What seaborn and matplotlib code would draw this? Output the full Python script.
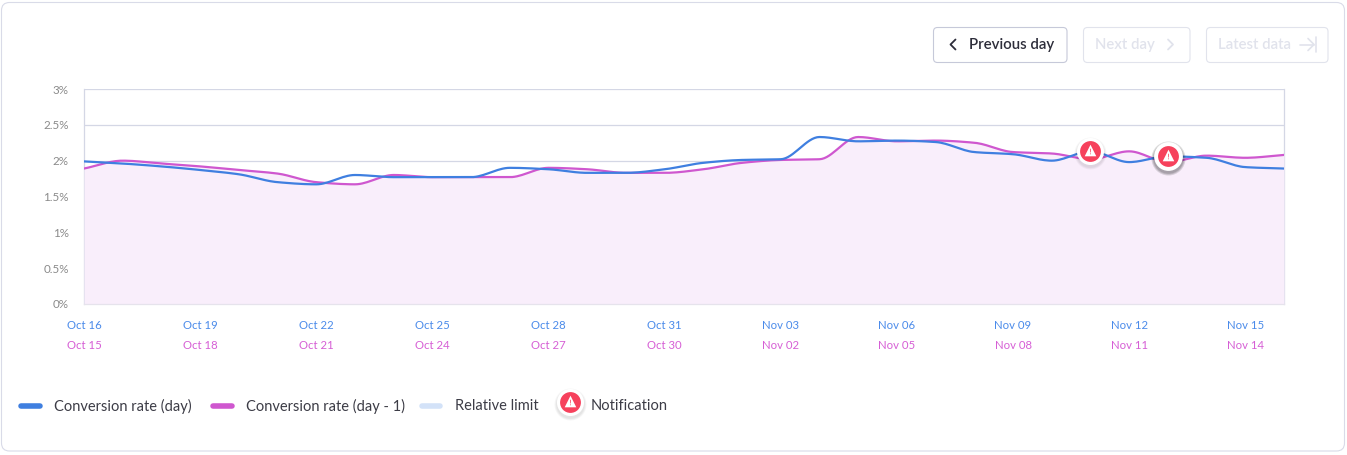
import numpy as np
import pandas as pd
import matplotlib
matplotlib.use("Agg")
import matplotlib.pyplot as plt
from matplotlib.patches import FancyBboxPatch
from matplotlib.transforms import ScaledTranslation
import seaborn as sns

W, H = 1347, 455

# Daily conversion rates, in percent
day_rate = [1.99, 1.96, 1.92, 1.87, 1.81, 1.70, 1.67, 1.80, 1.77, 1.77, 1.77,
            1.90, 1.88, 1.83, 1.83, 1.88, 1.97, 2.01, 2.02, 2.33, 2.27, 2.28,
            2.26, 2.12, 2.09, 2.00, 2.13, 1.98, 2.06, 2.04, 1.91, 1.89]
prev_rate = [1.89, 2.00, 1.96, 1.92, 1.87, 1.82, 1.70, 1.67, 1.80, 1.77, 1.77,
             1.77, 1.90, 1.88, 1.83, 1.83, 1.88, 1.97, 2.01, 2.02, 2.33, 2.27,
             2.28, 2.25, 2.12, 2.10, 2.02, 2.13, 1.98, 2.07, 2.04, 2.08]
notification_days = [26, 28]

day_labels = ["Oct 16", "Oct 19", "Oct 22", "Oct 25", "Oct 28", "Oct 31",
              "Nov 03", "Nov 06", "Nov 09", "Nov 12", "Nov 15"]
prev_labels = ["Oct 15", "Oct 18", "Oct 21", "Oct 24", "Oct 27", "Oct 30",
               "Nov 02", "Nov 05", "Nov 08", "Nov 11", "Nov 14"]
y_ticks = [0, 0.5, 1, 1.5, 2, 2.5, 3]
y_labels = ["0%", "0.5%", "1%", "1.5%", "2%", "2.5%", "3%"]

BLUE = "#3f7fe0"
MAGENTA = "#cf57cf"
FILL = "#f9eefb"
GRID = "#d4d7e5"
BORDER = "#d9dbe8"
RED = "#f6415c"
TEXT = "#3c3c46"
FAINT = "#e1e3ec"


def smooth(values, per_segment=16):
    """Shape-preserving cubic curve through the daily values, for a spline look."""
    y = np.asarray(values, float)
    x = np.arange(len(y), dtype=float)
    d = np.diff(y)
    m = np.zeros_like(y)
    for i in range(1, len(y) - 1):
        if d[i - 1] * d[i] > 0:
            m[i] = 2 * d[i - 1] * d[i] / (d[i - 1] + d[i])
    m[0], m[-1] = d[0], d[-1]
    xs = np.linspace(0, len(y) - 1, (len(y) - 1) * per_segment + 1)
    idx = np.minimum(xs.astype(int), len(y) - 2)
    t = xs - x[idx]
    ys = ((2 * t**3 - 3 * t**2 + 1) * y[idx] + (t**3 - 2 * t**2 + t) * m[idx]
          + (-2 * t**3 + 3 * t**2) * y[idx + 1] + (t**3 - t**2) * m[idx + 1])
    return xs, ys


sns.set_theme(style="white")
plt.rcParams["font.family"] = ["Lato", "DejaVu Sans"]

fig = plt.figure(figsize=(W / 100, H / 100), dpi=100, facecolor="white")

# Page furniture is laid out on a pixel-based overlay
ui = fig.add_axes([0, 0, 1, 1], zorder=0)
ui.set_xlim(0, W)
ui.set_ylim(H, 0)
ui.axis("off")


def box(x0, y0, x1, y1, edge, radius=4):
    ui.add_patch(FancyBboxPatch((x0, y0), x1 - x0, y1 - y0,
                                boxstyle=f"round,pad=0,rounding_size={radius}",
                                fc="white", ec=edge, lw=0.8))


box(1.5, 2.5, 1344.5, 451, BORDER, 8)

# Navigation buttons
box(933.5, 27.5, 1067, 62.5, "#c6c9d9")
box(1083.5, 27.5, 1190, 62.5, FAINT)
box(1206.5, 27.5, 1328, 62.5, FAINT)
ui.text(969, 45, "Previous day", fontsize=10.8, color="#2d2d3a",
        fontweight="semibold", va="center", ha="left")
ui.text(1095, 45, "Next day", fontsize=10.8, color=FAINT,
        fontweight="semibold", va="center", ha="left")
ui.text(1218, 45, "Latest data", fontsize=10.8, color=FAINT,
        fontweight="semibold", va="center", ha="left")
ui.plot([955.5, 950.5, 955.5], [39.5, 44.5, 49.5], color="#2d2d3a", lw=1.3)
ui.plot([1168, 1173, 1168], [39.5, 44.5, 49.5], color=FAINT, lw=1.3)
ui.plot([1300, 1314], [44.5, 44.5], color=FAINT, lw=1.2)
ui.plot([1308, 1314, 1308], [38.5, 44.5, 50.5], color=FAINT, lw=1.2)
ui.plot([1315.5, 1315.5], [37, 52], color=FAINT, lw=1.2)

# Legend row
legend_items = [(18, 42, BLUE, "Conversion rate (day)", 54),
                (210, 234, MAGENTA, "Conversion rate (day - 1)", 246),
                (419, 442, "#d3e2f8", "Relative limit", 455)]
for x0, x1, colour, label, tx in legend_items:
    ui.plot([x0 + 2.5, x1 - 2.5], [406, 406], color=colour, lw=4,
            solid_capstyle="round")
    ui.text(tx, 406, label, fontsize=10.5, color=TEXT, va="center", ha="left")
ui.text(591, 406, "Notification", fontsize=10.5, color=TEXT, va="center", ha="left")


def notification(axis, xs, ys, strong=False):
    """Red warning badge on a white ring with a soft drop shadow."""
    drop = ScaledTranslation(0, -1.5 / 72, fig.dpi_scale_trans)
    shade = 0.12 if strong else 0.035
    ring = 430 if strong else 380
    for grow in (1.4, 1.25, 1.12):
        axis.scatter(xs, ys, s=ring * grow, color="black", alpha=shade, lw=0, zorder=5,
                     transform=axis.transData + drop, clip_on=False)
    axis.scatter(xs, ys, s=ring, color="white", lw=0, zorder=6, clip_on=False)
    axis.scatter(xs, ys, s=225, color=RED, lw=0, zorder=7, clip_on=False)
    up = ScaledTranslation(0, 0.8 / 72, fig.dpi_scale_trans)
    axis.scatter(xs, ys, s=70, marker="^", color="white", lw=0, zorder=8,
                 transform=axis.transData + up, clip_on=False)
    axis.scatter(xs, ys, s=16, marker="$!$", color=RED, lw=0, zorder=9, clip_on=False)


notification(ui, [570], [402])

# Main chart area
ax = fig.add_axes([84 / W, 1 - 304 / H, (1284 - 84) / W, (304 - 89) / H], zorder=1)
ax.patch.set_alpha(0)
ax.set_xlim(0, len(day_rate) - 1)
ax.set_ylim(0, 3)

for value in y_ticks[1:]:
    ax.axhline(value, color=GRID, lw=0.9, zorder=1)
for side in ("left", "right"):
    ax.spines[side].set_color(GRID)
    ax.spines[side].set_linewidth(0.9)
    ax.spines[side].set_zorder(1.5)
ax.spines["top"].set_visible(False)
ax.spines["bottom"].set_color("#e6e3ec")
ax.spines["bottom"].set_linewidth(0.9)

day_x, day_y = smooth(day_rate)
prev_x, prev_y = smooth(prev_rate)
ax.fill_between(prev_x, 0, prev_y, color=FILL, lw=0, zorder=2)
sns.lineplot(x=prev_x, y=prev_y, color=MAGENTA, lw=1.6, ax=ax, zorder=3,
             estimator=None, sort=False)
sns.lineplot(x=day_x, y=day_y, color=BLUE, lw=1.6, ax=ax, zorder=4,
             estimator=None, sort=False)
ax.set_xlabel("")
ax.set_ylabel("")

# Two date rows along the bottom, one per series
tick_pos = np.arange(0, len(day_rate) - 1, 3)
ax.set_xticks(tick_pos, day_labels)
ax.tick_params(axis="x", length=0, pad=11.4, labelsize=8.2, labelcolor="#4b8bea")
ax.set_yticks(y_ticks, y_labels)
ax.tick_params(axis="y", length=0, pad=11, labelsize=8.4, labelcolor="#8a8a8a")
lower = ax.secondary_xaxis("bottom")
lower.set_xticks(tick_pos, prev_labels)
lower.tick_params(axis="x", length=0, pad=25.8, labelsize=8.2, labelcolor="#d65fd5")
lower.spines["bottom"].set_visible(False)

notification(ax, notification_days[:1], [day_rate[notification_days[0]]])
notification(ax, notification_days[1:], [day_rate[notification_days[1]]], strong=True)

fig.savefig("out.png", dpi=100)
